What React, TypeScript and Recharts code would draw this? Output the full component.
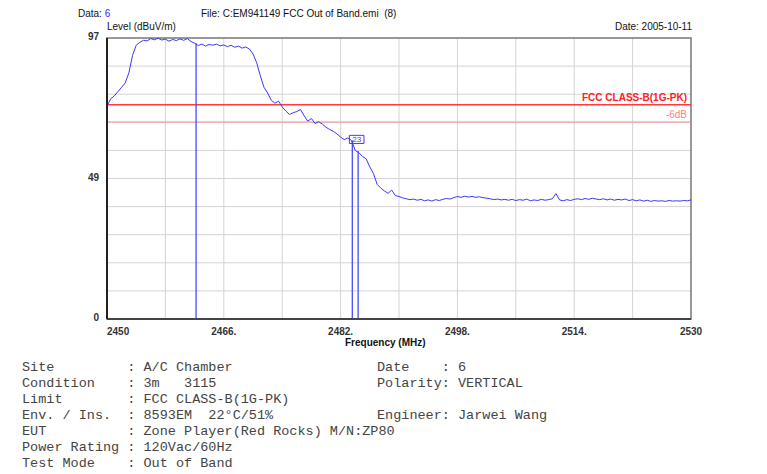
import {
  CartesianGrid,
  Line,
  LineChart,
  ReferenceArea,
  ReferenceLine,
  XAxis,
  YAxis,
} from "recharts";

// spectrum trace (MHz / dBuV/m)
const freqMHz = [
  2450, 2450.5, 2451, 2451.5, 2452, 2452.5, 2453, 2453.5, 2454, 2454.5,
  2455, 2455.5, 2456, 2456.5, 2457, 2457.5, 2458, 2458.5, 2459, 2459.5,
  2460, 2460.5, 2461, 2461.5, 2462, 2462.5, 2463, 2463.5, 2464, 2464.5,
  2465, 2465.5, 2466, 2466.5, 2467, 2467.5, 2468, 2468.5, 2469, 2469.5,
  2470, 2470.5, 2471, 2471.5, 2472, 2472.5, 2473, 2473.5, 2474, 2474.5,
  2475, 2475.5, 2476, 2476.5, 2477, 2477.5, 2478, 2478.5, 2479, 2479.5,
  2480, 2480.5, 2481, 2481.5, 2482, 2482.5, 2483, 2483.5, 2484, 2484.5,
  2485, 2485.5, 2486, 2486.5, 2487, 2487.5, 2488, 2488.5, 2489, 2489.5,
  2490, 2490.5, 2491, 2491.5, 2492, 2492.5, 2493, 2493.5, 2494, 2494.5,
  2495, 2495.5, 2496, 2496.5, 2497, 2497.5, 2498, 2498.5, 2499, 2499.5,
  2500, 2500.5, 2501, 2501.5, 2502, 2502.5, 2503, 2503.5, 2504, 2504.5,
  2505, 2505.5, 2506, 2506.5, 2507, 2507.5, 2508, 2508.5, 2509, 2509.5,
  2510, 2510.5, 2511, 2511.5, 2512, 2512.5, 2513, 2513.5, 2514, 2514.5,
  2515, 2515.5, 2516, 2516.5, 2517, 2517.5, 2518, 2518.5, 2519, 2519.5,
  2520, 2520.5, 2521, 2521.5, 2522, 2522.5, 2523, 2523.5, 2524, 2524.5,
  2525, 2525.5, 2526, 2526.5, 2527, 2527.5, 2528, 2528.5, 2529, 2529.5,
  2530,
];
const levelDbuv = [
  73.5, 76.0, 77.0, 78.5, 80.0, 81.5, 85.0, 91.0, 94.5, 95.5,
  96.2, 96.0, 96.8, 96.4, 96.9, 96.3, 96.6, 95.9, 96.5, 96.1,
  96.7, 96.2, 96.8, 95.8, 95.2, 94.4, 94.9, 94.2, 94.8, 94.5,
  94.9, 94.3, 94.6, 94.0, 94.5, 93.8, 94.2, 93.5, 93.9, 93.2,
  91.5, 88.5, 84.0, 80.0, 78.0, 75.5, 74.5, 75.2, 73.2, 71.8,
  70.6, 71.2, 71.6, 72.3, 70.2, 68.3, 69.2, 67.5, 68.1, 67.3,
  66.2, 65.4, 64.8, 63.9, 62.8, 61.9, 62.5, 61.6, 58.2, 57.4,
  56.1, 55.3, 52.5, 50.2, 46.5, 45.2, 44.2, 43.4, 44.5, 42.6,
  42.3, 41.8, 41.5, 41.2, 41.4, 41.0, 41.3, 40.8, 41.1, 40.7,
  41.2, 40.9, 41.3, 41.6, 41.4, 41.9, 42.3, 42.0, 42.4, 42.1,
  42.3, 42.0, 42.2, 41.9, 41.7, 41.5, 41.2, 41.4, 41.1, 41.3,
  41.0, 41.3, 40.9, 41.2, 41.0, 41.4, 40.8, 41.1, 40.9, 41.3,
  41.0, 41.2, 41.5, 43.3, 41.1, 40.8, 41.2, 40.9, 41.3, 41.5,
  41.2, 41.6, 41.3, 41.7, 41.4, 41.2, 41.5, 41.1, 41.4, 41.0,
  41.3, 41.1, 41.4, 40.9, 41.2, 40.8, 41.1, 40.7, 41.0, 40.6,
  40.9, 40.7, 40.8, 40.6, 40.9, 40.7, 40.8, 40.7, 40.9, 40.8,
  41.1,
];

const xTicks = [2450, 2466, 2482, 2498, 2514, 2530];
const yTicks = [0, 48.5, 97];
const xGridLines = [2458, 2466, 2474, 2482, 2490, 2498, 2506, 2514, 2522];
const yGridLines = [9.7, 19.4, 29.1, 38.8, 48.5, 58.2, 67.9, 77.6, 87.3];

const limitLevel = 74;
const marginLevel = 68;
const markerFreqs = [2462.2, 2483.6, 2484.4];
const markerLevels = [95.2, 61.6, 58.0];

const infoLeft = [
  "Site         : A/C Chamber",
  "Condition    : 3m   3115",
  "Limit        : FCC CLASS-B(1G-PK)",
  "Env. / Ins.  : 8593EM  22\u00b0C/51%",
  "EUT          : Zone Player(Red Rocks) M/N:ZP80",
  "Power Rating : 120Vac/60Hz",
  "Test Mode    : Out of Band",
];
const infoRight = [
  "Date    : 6",
  "Polarity: VERTICAL",
  "",
  "Engineer: Jarwei Wang",
];

const data = freqMHz.map((f, i) => ({ f, level: levelDbuv[i] }));

const sans = "'Liberation Sans', Arial, sans-serif";
const mono = "'Liberation Mono', 'Courier New', monospace";

function FreqTick(props: any) {
  const { x, y, payload } = props;
  const v = payload.value as number;
  const first = v === xTicks[0];
  const last = v === xTicks[xTicks.length - 1];
  return (
    <text
      x={x}
      y={y + 8}
      textAnchor={first ? "start" : "middle"}
      fontFamily={sans}
      fontSize={10}
      fontWeight="bold"
      fill="#333"
    >
      {first || last ? `${v}` : `${v}.`}
    </text>
  );
}

function LevelTick(props: any) {
  const { x, y, payload } = props;
  return (
    <text
      x={x}
      y={y + 2}
      textAnchor="end"
      fontFamily={sans}
      fontSize={10}
      fontWeight="bold"
      fill="#333"
    >
      {Math.round(payload.value)}
    </text>
  );
}

export default function App() {
  return (
    <div
      style={{
        position: "absolute",
        left: 0,
        top: 0,
        width: 767,
        height: 474,
        background: "#fff",
        fontFamily: sans,
        color: "#111",
      }}
    >
      <div style={{ position: "absolute", left: 78, top: 8, fontSize: 10 }}>
        Data: <span style={{ color: "#2a2aff" }}>6</span>
      </div>
      <div style={{ position: "absolute", left: 201, top: 8, fontSize: 10 }}>
        File: C:EM941149 FCC Out of Band.emi&nbsp;&nbsp;(8)
      </div>
      <div style={{ position: "absolute", left: 107, top: 21, fontSize: 10 }}>
        Level (dBuV/m)
      </div>
      <div
        style={{
          position: "absolute",
          right: 767 - 692,
          top: 21,
          fontSize: 10,
        }}
      >
        Date: 2005-10-11
      </div>

      <LineChart
        width={767}
        height={474}
        data={data}
        margin={{ top: 38, right: 76, bottom: 125, left: 77 }}
      >
        <CartesianGrid
          stroke="#d4d4d4"
          horizontalValues={yGridLines}
          verticalValues={xGridLines}
        />
        <XAxis
          dataKey="f"
          type="number"
          domain={[2450, 2530]}
          ticks={xTicks}
          tick={<FreqTick />}
          tickLine={false}
          axisLine={{ stroke: "#444", strokeWidth: 2 }}
          height={30}
          interval={0}
        />
        <YAxis
          type="number"
          domain={[0, 97]}
          ticks={yTicks}
          tick={<LevelTick />}
          tickLine={false}
          axisLine={{ stroke: "#222", strokeWidth: 2 }}
          width={30}
          interval={0}
        />
        <ReferenceArea
          x1={2450}
          x2={2530}
          y1={0}
          y2={97}
          fill="none"
          stroke="#777"
          strokeWidth={1.5}
        />
        <ReferenceLine
          y={limitLevel}
          stroke="#ff3b3b"
          strokeWidth={1.5}
          label={{
            value: "FCC CLASS-B(1G-PK)",
            position: "insideBottomRight",
            offset: 4,
            fill: "#ff2020",
            fontSize: 10,
            fontWeight: "bold",
            fontFamily: sans,
          }}
        />
        <ReferenceLine
          y={marginLevel}
          stroke="#ff9090"
          strokeWidth={1}
          label={{
            value: "-6dB",
            position: "insideBottomRight",
            offset: 4,
            fill: "#ff8080",
            fontSize: 10,
            fontFamily: sans,
          }}
        />
        {markerFreqs.map((mf, i) => (
          <ReferenceLine
            key={mf}
            segment={[
              { x: mf, y: 0 },
              { x: mf, y: markerLevels[i] },
            ]}
            stroke="#3a3aff"
            strokeWidth={1.2}
          />
        ))}
        <ReferenceArea
          x1={2483.2}
          x2={2485.2}
          y1={60.6}
          y2={63.4}
          fill="none"
          stroke="#3a3aff"
          strokeWidth={1}
          label={{
            value: "23",
            fill: "#3a3aff",
            fontSize: 8,
            fontFamily: sans,
          }}
        />
        <Line
          dataKey="level"
          stroke="#3838ff"
          strokeWidth={1}
          dot={false}
          isAnimationActive={false}
        />
      </LineChart>

      <div
        style={{
          position: "absolute",
          left: 345,
          top: 337,
          fontSize: 10,
          fontWeight: "bold",
        }}
      >
        Frequency (MHz)
      </div>

      <div
        style={{
          position: "absolute",
          left: 22,
          top: 360,
          fontFamily: mono,
          fontSize: 13.5,
          lineHeight: "16px",
          whiteSpace: "pre",
          color: "#444",
        }}
      >
        {infoLeft.map((row) => (
          <div key={row}>{row}</div>
        ))}
      </div>
      <div
        style={{
          position: "absolute",
          left: 377,
          top: 360,
          fontFamily: mono,
          fontSize: 13.5,
          lineHeight: "16px",
          whiteSpace: "pre",
          color: "#444",
        }}
      >
        {infoRight.map((row, i) => (
          <div key={i}>{row || "\u00a0"}</div>
        ))}
      </div>
    </div>
  );
}
